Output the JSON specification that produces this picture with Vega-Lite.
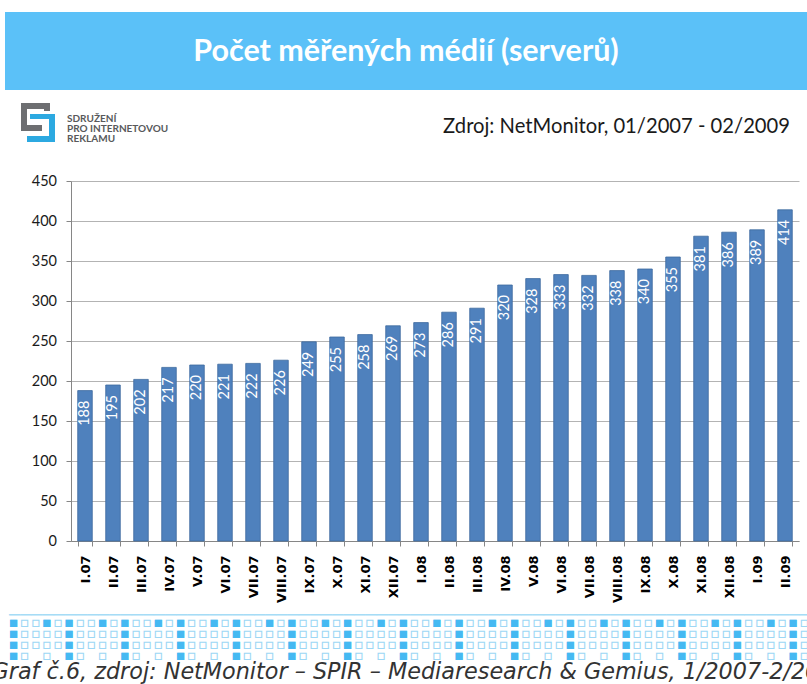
{
  "$schema": "https://vega.github.io/schema/vega-lite/v6.json",
  "padding": {"left": 0, "top": 12, "right": 0, "bottom": 0},
  "background": "white",
  "spacing": 0,
  "config": {"view": {"stroke": null}},
  "vconcat": [
    {
      "spacing": 0,
      "bounds": "flush",
      "hconcat": [
        {
          "width": 5,
          "height": 78,
          "data": {"values": []},
          "mark": {"type": "text"},
          "encoding": {}
        },
        {
          "width": 802,
          "height": 78,
          "view": {"fill": "#5BC1F8", "stroke": null},
          "data": {"values": [{"title": "Počet měřených médií (serverů)"}]},
          "mark": {"type": "text", "font": "Lato", "fontWeight": "bold", "fontSize": 30.5, "color": "white", "align": "center", "baseline": "middle", "dy": 1},
          "encoding": {"text": {"field": "title"}}
        }
      ]
    },
    {
      "spacing": 0,
      "bounds": "flush",
      "hconcat": [
        {
          "width": 72,
          "height": 68,
          "data": {"values": [{"part": "gray"}, {"part": "blue"}]},
          "mark": {"type": "point", "filled": true, "size": 4, "opacity": 1, "strokeWidth": 0},
          "encoding": {
            "shape": {"field": "part", "type": "nominal", "legend": null,
              "scale": {"domain": ["gray", "blue"], "range": ["M-15,-21H14V-13H8V-15H-9V1H6V7H-15Z", "M-6,-10H19V18H-9V12H13V-5H-6Z"]}},
            "color": {"field": "part", "type": "nominal", "legend": null,
              "scale": {"domain": ["gray", "blue"], "range": ["#6D6E71", "#2CA9E1"]}}
          }
        },
        {
          "width": 735,
          "height": 83,
          "layer": [
            {
              "data": {"values": [{"t": "SDRUŽENÍ\nPRO INTERNETOVOU\nREKLAMU"}]},
              "mark": {"type": "text", "font": "Lato", "fontWeight": "bold", "fontSize": 10, "lineHeight": 10, "lineBreak": "\n", "color": "#58595B", "align": "left", "baseline": "middle", "dx": -372.5, "dy": -12.5},
              "encoding": {"text": {"field": "t"}}
            },
            {
              "data": {"values": [{"t": "Zdroj: NetMonitor, 01/2007 - 02/2009"}]},
              "mark": {"type": "text", "font": "Lato", "fontSize": 20.2, "color": "#1a1a1a", "align": "right", "baseline": "middle", "dx": 350.5, "dy": -5},
              "encoding": {"text": {"field": "t"}}
            }
          ]
        }
      ]
    },
    {
      "spacing": 0,
      "bounds": "flush",
      "hconcat": [
        {
          "width": 71,
          "height": 360,
          "data": {"values": []},
          "mark": {"type": "text"},
          "encoding": {}
        },
        {
          "width": 728,
          "height": 360,
          "data": {"values": [
            {"m": "I.07", "v": 188}, {"m": "II.07", "v": 195}, {"m": "III.07", "v": 202}, {"m": "IV.07", "v": 217},
            {"m": "V.07", "v": 220}, {"m": "VI.07", "v": 221}, {"m": "VII.07", "v": 222}, {"m": "VIII.07", "v": 226},
            {"m": "IX.07", "v": 249}, {"m": "X.07", "v": 255}, {"m": "XI.07", "v": 258}, {"m": "XII.07", "v": 269},
            {"m": "I.08", "v": 273}, {"m": "II.08", "v": 286}, {"m": "III.08", "v": 291}, {"m": "IV.08", "v": 320},
            {"m": "V.08", "v": 328}, {"m": "VI.08", "v": 333}, {"m": "VII.08", "v": 332}, {"m": "VIII.08", "v": 338},
            {"m": "IX.08", "v": 340}, {"m": "X.08", "v": 355}, {"m": "XI.08", "v": 381}, {"m": "XII.08", "v": 386},
            {"m": "I.09", "v": 389}, {"m": "II.09", "v": 414}
          ]},
          "encoding": {
            "x": {"field": "m", "type": "ordinal", "sort": null,
              "scale": {"paddingInner": 0.48, "paddingOuter": 0.24},
              "axis": {"title": null, "labelAngle": -90, "labelFont": "DejaVu Sans", "labelFontWeight": "bold", "labelFontSize": 13, "labelColor": "#000000", "labelPadding": 9, "tickBand": "extent", "tickColor": "#868686", "tickSize": 5, "domainColor": "#868686", "grid": false}},
            "y": {"field": "v", "type": "quantitative",
              "scale": {"domain": [0, 450], "nice": false},
              "axis": {"title": null, "values": [0, 50, 100, 150, 200, 250, 300, 350, 400, 450], "grid": true, "gridColor": "#B3B3B3", "gridWidth": 1, "domainColor": "#868686", "tickColor": "#868686", "tickSize": 5, "labelFont": "Lato", "labelFontSize": 14.5, "labelColor": "#1a1a1a", "labelPadding": 9.5}}
          },
          "layer": [
            {"mark": {"type": "bar", "color": "#4F81BD", "stroke": "#3D6A9E", "strokeWidth": 0.8}},
            {"mark": {"type": "text", "angle": -90, "align": "right", "baseline": "middle", "dx": -10, "color": "white", "font": "Lato", "fontSize": 14.5},
             "encoding": {"text": {"field": "v", "type": "quantitative"}}}
          ]
        }
      ]
    },
    {
      "width": 807,
      "height": 81,
      "layer": [
        {
          "data": {"values": [{"t": "────────────────────────────────────────────────────────────────────────────────"}]},
          "mark": {"type": "text", "font": "DejaVu Sans Mono", "fontSize": 18.5, "align": "left", "baseline": "middle", "dx": -394.5, "dy": -29, "color": "#A6DCF6", "clip": true},
          "encoding": {"text": {"field": "t"}}
        },
        {
          "data": {"values": [{"t": "▫▫▫▫▫▫▫▫▫▫▫▫▫▫▫▫▫▫▫▫▫▫▫▫▫▫▫▫▫▫▫▫▫▫▫▫▫▫▫▫▫▫▫▫▫▫▫▫▫▫▫▫▫▫▫▫▫▫▫▫▫▫▫▫▫▫▫▫▫▫▫▫▫▫▫▫▫▫▫▫\n▫▫▫▫▫▫▫▫▫▫▫▫▫▫▫▫▫▫▫▫▫▫▫▫▫▫▫▫▫▫▫▫▫▫▫▫▫▫▫▫▫▫▫▫▫▫▫▫▫▫▫▫▫▫▫▫▫▫▫▫▫▫▫▫▫▫▫▫▫▫▫▫▫▫▫▫▫▫▫▫\n▫▫▫▫▫▫▫▫▫▫▫▫▫▫▫▫▫▫▫▫▫▫▫▫▫▫▫▫▫▫▫▫▫▫▫▫▫▫▫▫▫▫▫▫▫▫▫▫▫▫▫▫▫▫▫▫▫▫▫▫▫▫▫▫▫▫▫▫▫▫▫▫▫▫▫▫▫▫▫▫\n\u00a0▫▫\u00a0▫\u00a0▫▫\u00a0▫\u00a0▫▫\u00a0▫\u00a0▫▫\u00a0▫\u00a0▫▫\u00a0▫\u00a0▫▫\u00a0▫\u00a0▫▫\u00a0▫\u00a0▫▫\u00a0▫\u00a0▫▫\u00a0▫\u00a0▫▫\u00a0▫\u00a0▫▫\u00a0▫\u00a0▫▫\u00a0▫\u00a0▫▫\u00a0▫\u00a0▫▫\u00a0▫\u00a0▫▫\u00a0▫\u00a0▫▫\u00a0▫"}]},
          "mark": {"type": "text", "font": "DejaVu Sans Mono", "fontSize": 18.5, "lineHeight": 11.3, "lineBreak": "\n", "align": "left", "baseline": "middle", "dx": -395.6, "dy": -22, "color": "#9DD7F5", "clip": true},
          "encoding": {"text": {"field": "t"}}
        },
        {
          "data": {"values": [{"t": "▪\u00a0\u00a0▪\u00a0▪\u00a0\u00a0▪\u00a0▪\u00a0\u00a0▪\u00a0▪\u00a0\u00a0▪\u00a0▪\u00a0\u00a0▪\u00a0▪\u00a0\u00a0▪\u00a0▪\u00a0\u00a0▪\u00a0▪\u00a0\u00a0▪\u00a0▪\u00a0\u00a0▪\u00a0▪\u00a0\u00a0▪\u00a0▪\u00a0\u00a0▪\u00a0▪\u00a0\u00a0▪\u00a0▪\u00a0\u00a0▪\u00a0▪\u00a0\u00a0▪\u00a0▪\u00a0\u00a0▪\u00a0▪\u00a0\u00a0▪\u00a0▪\u00a0\u00a0▪\u00a0\n\u00a0▪\u00a0\u00a0\u00a0\u00a0▪\u00a0\u00a0\u00a0\u00a0▪\u00a0\u00a0\u00a0\u00a0▪\u00a0\u00a0\u00a0\u00a0▪\u00a0\u00a0\u00a0\u00a0▪\u00a0\u00a0\u00a0\u00a0▪\u00a0\u00a0\u00a0\u00a0▪\u00a0\u00a0\u00a0\u00a0▪\u00a0\u00a0\u00a0\u00a0▪\u00a0\u00a0\u00a0\u00a0▪\u00a0\u00a0\u00a0\u00a0▪\u00a0\u00a0\u00a0\u00a0▪\u00a0\u00a0\u00a0\u00a0▪\u00a0\u00a0\u00a0\u00a0▪\u00a0\u00a0\u00a0\u00a0▪\u00a0\u00a0\u00a0\n\u00a0\u00a0\u00a0\u00a0▪\u00a0\u00a0\u00a0\u00a0▪\u00a0\u00a0\u00a0\u00a0▪\u00a0\u00a0\u00a0\u00a0▪\u00a0\u00a0\u00a0\u00a0▪\u00a0\u00a0\u00a0\u00a0▪\u00a0\u00a0\u00a0\u00a0▪\u00a0\u00a0\u00a0\u00a0▪\u00a0\u00a0\u00a0\u00a0▪\u00a0\u00a0\u00a0\u00a0▪\u00a0\u00a0\u00a0\u00a0▪\u00a0\u00a0\u00a0\u00a0▪\u00a0\u00a0\u00a0\u00a0▪\u00a0\u00a0\u00a0\u00a0▪\u00a0\u00a0\u00a0\u00a0▪\u00a0\u00a0\u00a0\u00a0▪\n\u00a0▪\u00a0\u00a0\u00a0\u00a0▪\u00a0\u00a0\u00a0\u00a0▪\u00a0\u00a0\u00a0\u00a0▪\u00a0\u00a0\u00a0\u00a0▪\u00a0\u00a0\u00a0\u00a0▪\u00a0\u00a0\u00a0\u00a0▪\u00a0\u00a0\u00a0\u00a0▪\u00a0\u00a0\u00a0\u00a0▪\u00a0\u00a0\u00a0\u00a0▪\u00a0\u00a0\u00a0\u00a0▪\u00a0\u00a0\u00a0\u00a0▪\u00a0\u00a0\u00a0\u00a0▪\u00a0\u00a0\u00a0\u00a0▪\u00a0\u00a0\u00a0\u00a0▪\u00a0\u00a0\u00a0\u00a0▪\u00a0\u00a0\u00a0"}]},
          "mark": {"type": "text", "font": "DejaVu Sans Mono", "fontSize": 18.5, "lineHeight": 11.3, "lineBreak": "\n", "align": "left", "baseline": "middle", "dx": -395.6, "dy": -22, "color": "#45B9F2", "clip": true},
          "encoding": {"text": {"field": "t"}}
        },
        {
          "data": {"values": [{"t": "Graf č.6, zdroj: NetMonitor – SPIR – Mediaresearch & Gemius, 1/2007-2/2009"}]},
          "mark": {"type": "text", "font": "DejaVu Sans", "fontStyle": "italic", "fontSize": 22.3, "align": "left", "baseline": "middle", "dx": -412, "dy": 28, "color": "#333333", "clip": true},
          "encoding": {"text": {"field": "t"}}
        }
      ]
    }
  ]
}
